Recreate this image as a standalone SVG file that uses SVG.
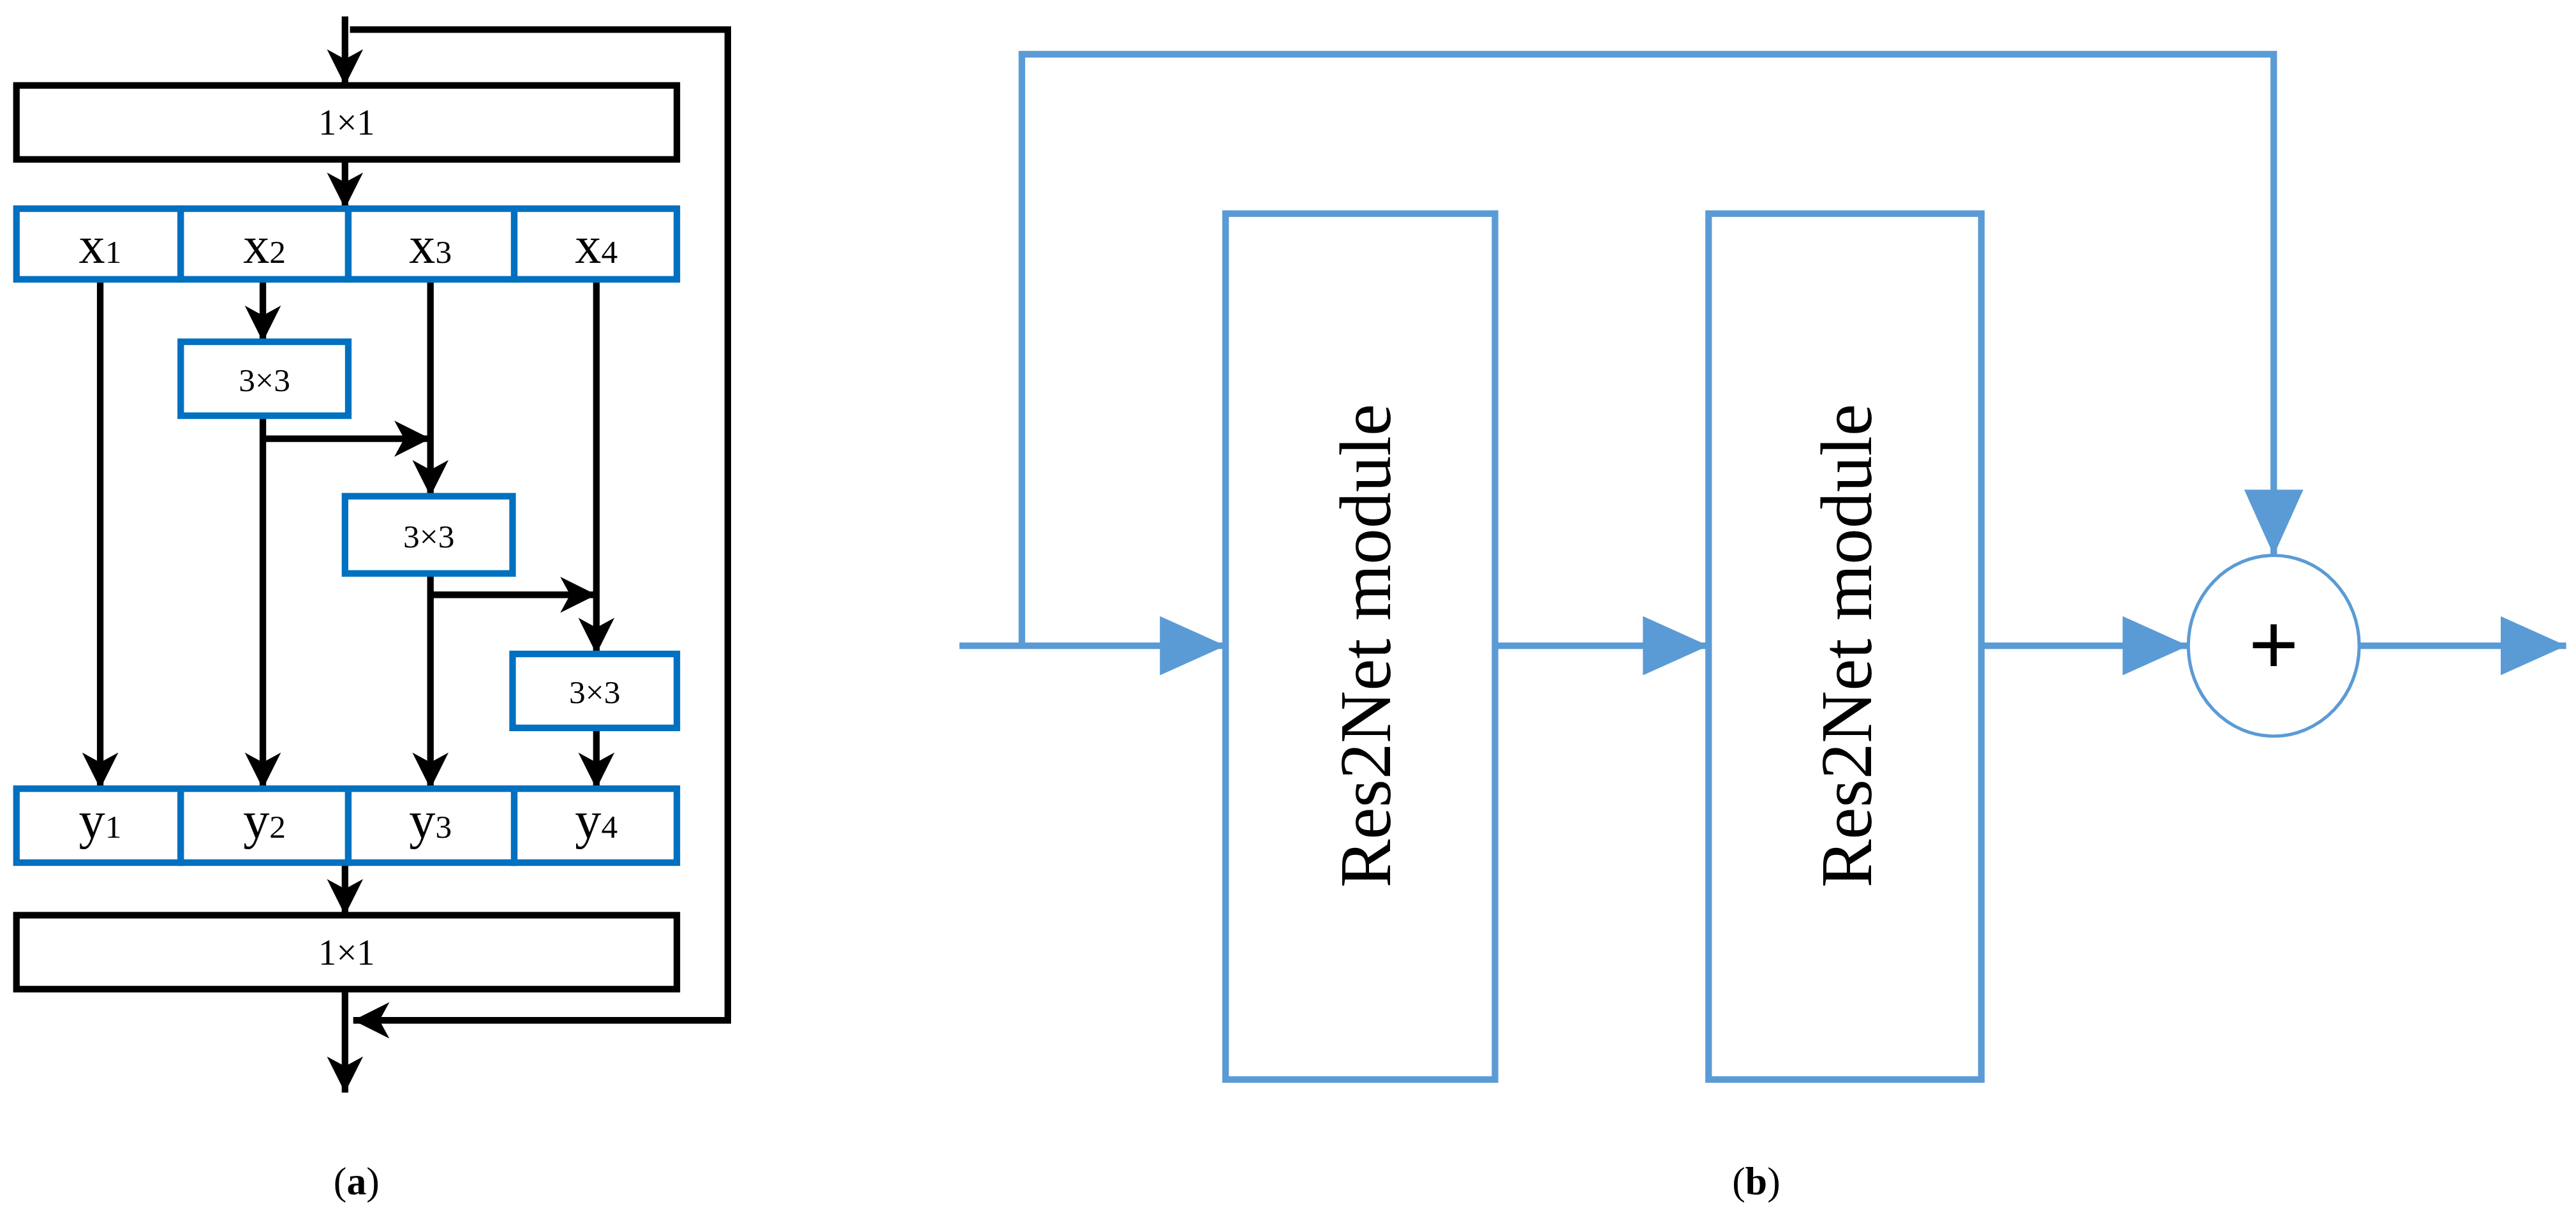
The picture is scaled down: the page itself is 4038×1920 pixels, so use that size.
<svg xmlns="http://www.w3.org/2000/svg" width="4038" height="1920" viewBox="0 0 4038 1920">
<style>
.bk{fill:#fff;stroke:#000;stroke-width:4}
.bl{fill:#fff;stroke:#0070c0;stroke-width:4}
.ln{fill:none;stroke:#000;stroke-width:4}
.lb{fill:none;stroke:#5b9bd5;stroke-width:4}
.bb{fill:#fff;stroke:#5b9bd5;stroke-width:4}
.t{font-family:"Liberation Serif",serif;text-anchor:middle;fill:#000}
</style>
<defs>
<marker id="ak" markerUnits="userSpaceOnUse" markerWidth="24" markerHeight="24" refX="22" refY="12" orient="auto" viewBox="0 0 24 24"><path d="M0,1 L22,12 L0,23 L6,12 Z" fill="#000"/></marker>
<marker id="ab" markerUnits="userSpaceOnUse" markerWidth="40" markerHeight="36" refX="40" refY="18" orient="auto" viewBox="0 0 40 36"><path d="M0,0 L40,18 L0,36 Z" fill="#5b9bd5"/></marker>
</defs>
<rect width="4038" height="1920" fill="#fff"/>
<g transform="scale(2.5753)">
<g id="connectors">
<path class="ln" d="M210,10 V52" marker-end="url(#ak)"/>
<path class="ln" d="M213,18 H443 V621 H215" marker-end="url(#ak)"/>
<path class="ln" d="M210,97 V127" marker-end="url(#ak)"/>
<path class="ln" d="M61,170 V480" marker-end="url(#ak)"/>
<path class="ln" d="M160,170 V208" marker-end="url(#ak)"/>
<path class="ln" d="M262,170 V302" marker-end="url(#ak)"/>
<path class="ln" d="M363,170 V398" marker-end="url(#ak)"/>
<path class="ln" d="M160,253 V480" marker-end="url(#ak)"/>
<path class="ln" d="M160,267 H262" marker-end="url(#ak)"/>
<path class="ln" d="M262,349 V480" marker-end="url(#ak)"/>
<path class="ln" d="M262,362 H363" marker-end="url(#ak)"/>
<path class="ln" d="M363,443 V480" marker-end="url(#ak)"/>
<path class="ln" d="M210,525 V557" marker-end="url(#ak)"/>
<path class="ln" d="M210,602 V665" marker-end="url(#ak)"/>
<path class="lb" d="M584,393 H746" marker-end="url(#ab)"/>
<path class="lb" d="M622,393 V33 H1384 V338" marker-end="url(#ab)"/>
<path class="lb" d="M910,393 H1040" marker-end="url(#ab)"/>
<path class="lb" d="M1206,393 H1332" marker-end="url(#ab)"/>
<path class="lb" d="M1436,393 H1562" marker-end="url(#ab)"/>
</g>
<g id="top11"><rect class="bk" x="10" y="52" width="402" height="45"/><text class="t" x="211" y="82" font-size="22">1×1</text></g>
<g id="xrow">
<rect class="bl" x="10" y="127" width="100" height="43"/><rect class="bl" x="110" y="127" width="102" height="43"/><rect class="bl" x="212" y="127" width="101" height="43"/><rect class="bl" x="313" y="127" width="99" height="43"/>
<text class="t" x="61" y="160" font-size="32">x<tspan font-size="20">1</tspan></text>
<text class="t" x="161" y="160" font-size="32">x<tspan font-size="20">2</tspan></text>
<text class="t" x="262" y="160" font-size="32">x<tspan font-size="20">3</tspan></text>
<text class="t" x="363" y="160" font-size="32">x<tspan font-size="20">4</tspan></text>
</g>
<g id="c1"><rect class="bl" x="110" y="208" width="102" height="45"/><text class="t" x="161" y="238" font-size="20">3×3</text></g>
<g id="c2"><rect class="bl" x="210" y="302" width="102" height="47"/><text class="t" x="261" y="333" font-size="20">3×3</text></g>
<g id="c3"><rect class="bl" x="312" y="398" width="100" height="45"/><text class="t" x="362" y="428" font-size="20">3×3</text></g>
<g id="yrow">
<rect class="bl" x="10" y="480" width="100" height="45"/><rect class="bl" x="110" y="480" width="102" height="45"/><rect class="bl" x="212" y="480" width="101" height="45"/><rect class="bl" x="313" y="480" width="99" height="45"/>
<text class="t" x="61" y="510" font-size="32">y<tspan font-size="20">1</tspan></text>
<text class="t" x="161" y="510" font-size="32">y<tspan font-size="20">2</tspan></text>
<text class="t" x="262" y="510" font-size="32">y<tspan font-size="20">3</tspan></text>
<text class="t" x="363" y="510" font-size="32">y<tspan font-size="20">4</tspan></text>
</g>
<g id="bot11"><rect class="bk" x="10" y="557" width="402" height="45"/><text class="t" x="211" y="587" font-size="22">1×1</text></g>
<text class="t" x="217" y="727" font-size="24">(<tspan font-weight="bold">a</tspan>)</text>
<g id="res1"><rect class="bb" x="746" y="130" width="164" height="527"/><text class="t" font-size="44" transform="translate(846,393) rotate(-90)">Res2Net module</text></g>
<g id="res2"><rect class="bb" x="1040" y="130" width="166" height="527"/><text class="t" font-size="44" transform="translate(1139,393) rotate(-90)">Res2Net module</text></g>
<g id="plus"><ellipse cx="1384" cy="393" rx="52" ry="55" fill="#fff" stroke="#5b9bd5" stroke-width="2"/><text x="1384" y="410" font-size="52" text-anchor="middle" font-family="Liberation Sans,sans-serif">+</text></g>
<text class="t" x="1069" y="727" font-size="24">(<tspan font-weight="bold">b</tspan>)</text>
</g>
</svg>
